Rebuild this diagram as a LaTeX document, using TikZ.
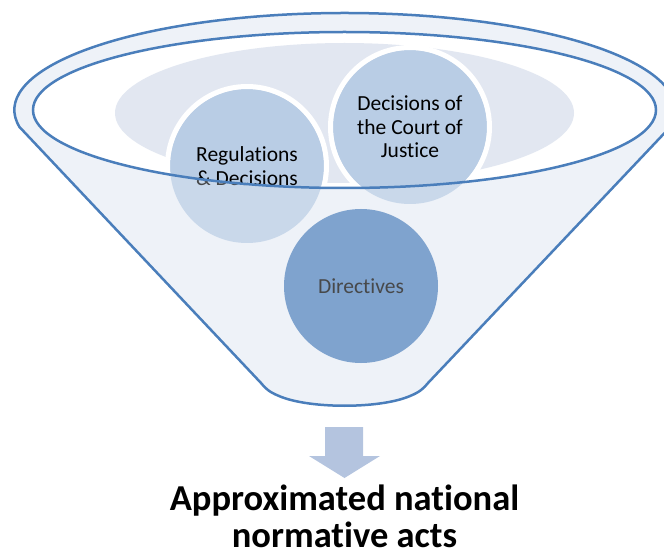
\documentclass[tikz,border=0pt]{standalone}
\usepackage{fontspec}
\setmainfont{Carlito}[Ligatures=NoCommon]
\definecolor{rimc}{HTML}{4A7EBB}
\definecolor{bodyc}{HTML}{EEF2F8}
\definecolor{shadec}{HTML}{E2E7F1}
\definecolor{circc}{HTML}{B9CDE5}
\definecolor{dirc}{HTML}{4F81BD}
\definecolor{arrowc}{HTML}{B4C4DF}
\begin{document}
\begin{tikzpicture}[x=1pt,y=-1pt,
  ball/.style={circle, minimum size=154pt, inner sep=0pt, align=center,
    font=\fontsize{21.5}{23.5}\selectfont, text=black},
  ring/.style={draw=white, line width=5pt},
  outline/.style={draw=rimc, line width=2.5pt},
  bigtext/.style={font=\bfseries\fontsize{36.5}{38}\selectfont, anchor=base,
    inner sep=0pt, text depth=0pt}]
\useasboundingbox (0,0) rectangle (664,556);
\def\funnel{(19.5,127) arc[start angle=169.9, end angle=370.1, x radius=330.5, y radius=97]
  -- (428,383) .. controls (424,388) and (420,392) .. (410,396)
  .. controls (380,409) and (309,409) .. (279,396)
  .. controls (269,392) and (265,388) .. (261,383) -- cycle}
\def\rim{(344.5,110) ellipse [x radius=311.5, y radius=78]}
% funnel body
\fill[bodyc] \funnel;
\fill[white] \rim;
\fill[shadec] (344.5,113) ellipse [x radius=229.5, y radius=70];
% balls
\node[ball, fill=circc] (reg) at (247,166) {Regulations\\\& Decisions};
\node[ball, fill=circc] (dec) at (410,127) {Decisions of\\the Court of\\Justice};
\node[ball, fill=dirc] (dir) at (361,286) {Directives};
\begin{scope}
  \clip \rim;
  \draw[ring] (reg.center) circle (79.5pt);
  \draw[ring] (dec.center) circle (79.5pt);
\end{scope}
% front face of the funnel
\fill[bodyc, fill opacity=0.3, even odd rule] \funnel \rim;
% outlines
\draw[outline] \funnel;
\draw[outline] \rim;
% arrow
\fill[arrowc] (325,427) -- (363,427) -- (363,456) -- (380,456) -- (344.5,478)
  -- (309,456) -- (325,456) -- cycle;
\node[bigtext] (t1) at (344.5,510) {Approximated national};
\node[bigtext] (t2) at (344.5,547) {normative acts};
\end{tikzpicture}
\end{document}
